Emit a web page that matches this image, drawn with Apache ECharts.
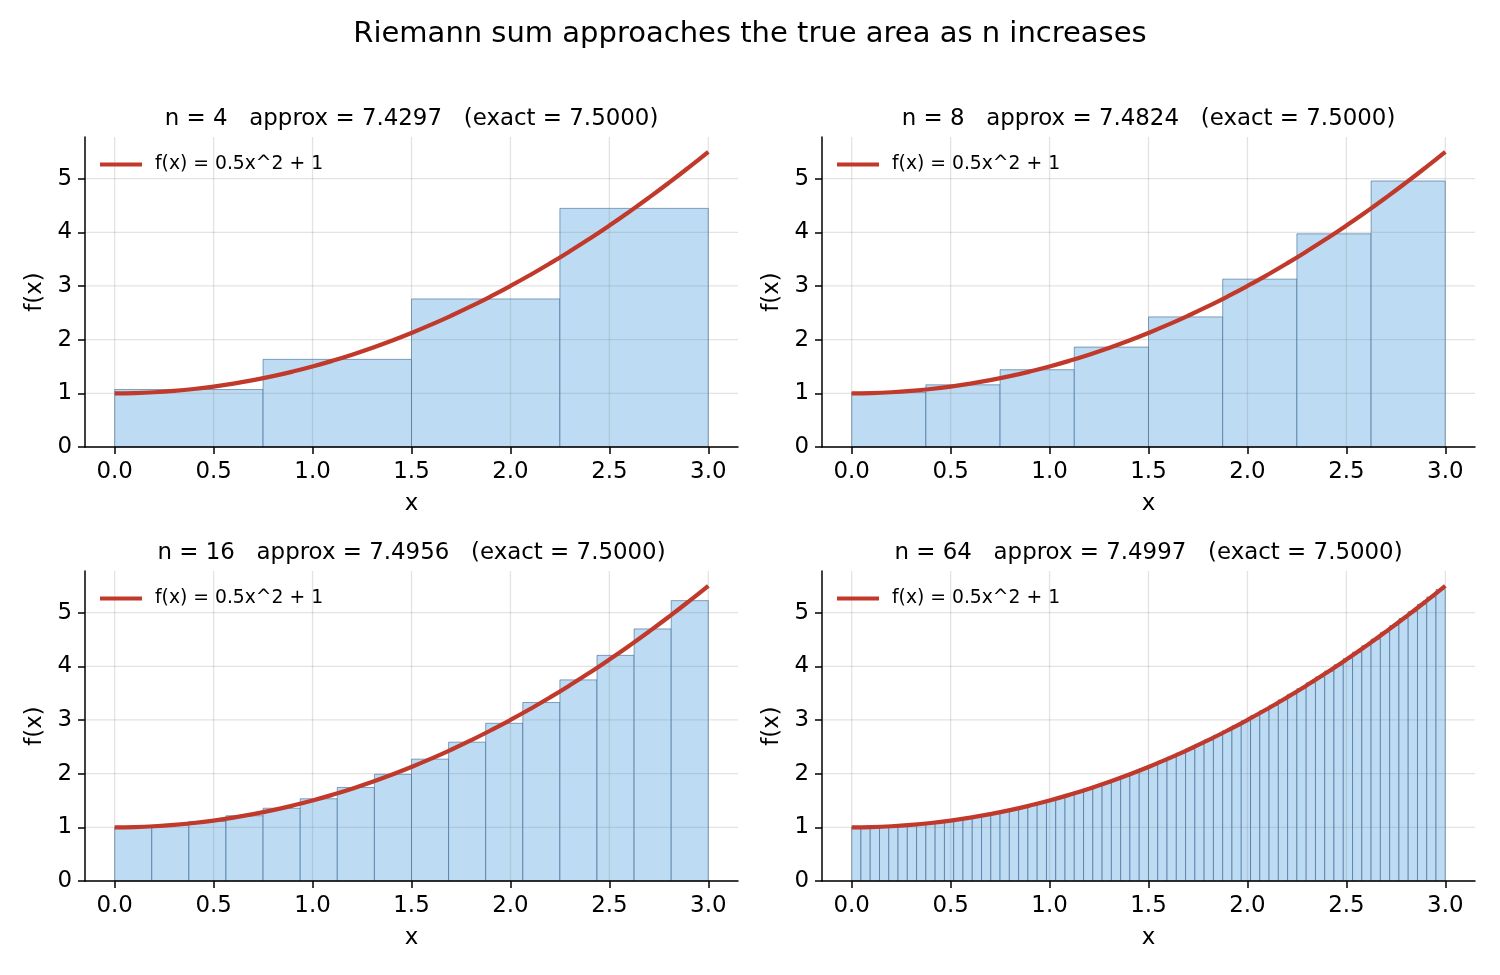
<!DOCTYPE html>
<html>
<head>
<meta charset="utf-8">
<script src="https://cdn.jsdelivr.net/npm/echarts@6/dist/echarts.min.js"></script>
<style>
  html, body { margin: 0; padding: 0; background: #fff; }
  #chart { width: 1500px; height: 975px; }
</style>
</head>
<body>
<div id="chart"></div>
<script>
// ---------- data ----------
const suptitle = 'Riemann sum approaches the true area as n increases';
const curveName = 'f(x) = 0.5x^2 + 1';
const intervalStart = 0;
const intervalEnd = 3;
const exactValue = '7.5000';
const panelN = [4, 8, 16, 64];
const panelApprox = ['7.4297', '7.4824', '7.4956', '7.4997'];

const xTicks = [0, 0.5, 1.0, 1.5, 2.0, 2.5, 3.0];
const yTicks = [0, 1, 2, 3, 4, 5];

const curveX = [0, 0.1, 0.2, 0.3, 0.4, 0.5, 0.6, 0.7, 0.8, 0.9, 1.0, 1.1, 1.2, 1.3, 1.4, 1.5,
  1.6, 1.7, 1.8, 1.9, 2.0, 2.1, 2.2, 2.3, 2.4, 2.5, 2.6, 2.7, 2.8, 2.9, 3.0];
const curveY = [1.000, 1.005, 1.020, 1.045, 1.080, 1.125, 1.180, 1.245, 1.320, 1.405, 1.500,
  1.605, 1.720, 1.845, 1.980, 2.125, 2.280, 2.445, 2.620, 2.805, 3.000, 3.205, 3.420, 3.645,
  3.880, 4.125, 4.380, 4.645, 4.920, 5.205, 5.500];

const heights4 = [1.0703, 1.6328, 2.7578, 4.4453];
const heights8 = [1.0176, 1.1582, 1.4395, 1.8613, 2.4238, 3.1270, 3.9707, 4.9551];
const heights16 = [1.0044, 1.0396, 1.1099, 1.2153, 1.3560, 1.5317, 1.7427, 1.9888,
  2.2700, 2.5864, 2.9380, 3.3247, 3.7466, 4.2036, 4.6958, 5.2231];
const heights64 = [1.0003, 1.0025, 1.0069, 1.0135, 1.0222, 1.0332, 1.0464, 1.0618,
  1.0794, 1.0992, 1.1211, 1.1453, 1.1717, 1.2002, 1.2310, 1.2639,
  1.2991, 1.3365, 1.3760, 1.4178, 1.4617, 1.5078, 1.5562, 1.6067,
  1.6595, 1.7144, 1.7715, 1.8308, 1.8924, 1.9561, 2.0220, 2.0901,
  2.1604, 2.2329, 2.3076, 2.3846, 2.4637, 2.5450, 2.6284, 2.7141,
  2.8020, 2.8921, 2.9844, 3.0789, 3.1756, 3.2744, 3.3755, 3.4788,
  3.5843, 3.6919, 3.8018, 3.9138, 4.0281, 4.1446, 4.2632, 4.3841,
  4.5071, 4.6324, 4.7598, 4.8894, 5.0213, 5.1553, 5.2915, 5.4300];
const panelHeights = [heights4, heights8, heights16, heights64];

// ---------- layout / style ----------
const FONT = '"DejaVu Sans", "Liberation Sans", sans-serif';
const gridsPos = [
  { left: 85, top: 137, width: 653, height: 310 },
  { left: 822, top: 137, width: 653, height: 310 },
  { left: 85, top: 571, width: 653, height: 310 },
  { left: 822, top: 571, width: 653, height: 310 }
];
const X_MIN = -0.15, X_MAX = 3.15, Y_MIN = 0, Y_MAX = 5.775;
const CURVE_COLOR = '#c0392b';
const BAR_FILL = '#bddcf3';
const BAR_EDGE = 'rgba(45,90,135,0.55)';
const GRID_COLOR = 'rgba(128,128,128,0.22)';
const LABEL_SIZE = 22.9;

const grid = [], xAxis = [], yAxis = [], series = [], legend = [], graphic = [];

graphic.push({
  type: 'text', x: 750, y: 34, z: 10,
  style: { text: suptitle, font: '29px ' + FONT, fill: '#000', align: 'center', verticalAlign: 'middle' }
});

panelN.forEach((n, i) => {
  const g = gridsPos[i];
  grid.push({ left: g.left, top: g.top, width: g.width, height: g.height, containLabel: false });

  graphic.push({
    type: 'text', x: g.left + g.width / 2, y: g.top - 18, z: 10,
    style: {
      text: 'n = ' + n + '   approx = ' + panelApprox[i] + '   (exact = ' + exactValue + ')',
      font: '22.9px ' + FONT, fill: '#000', align: 'center', verticalAlign: 'middle'
    }
  });

  xAxis.push({
    gridIndex: i, type: 'value', min: X_MIN, max: X_MAX, z: 10,
    axisLine: { show: true, onZero: false, lineStyle: { color: '#000', width: 1.5 } },
    axisTick: { show: true, customValues: xTicks, length: 7, lineStyle: { color: '#000', width: 1.5 } },
    axisLabel: { customValues: xTicks, formatter: v => Number(v).toFixed(1), fontSize: LABEL_SIZE, fontFamily: FONT, color: '#000', margin: 14 },
    splitLine: { show: false },
    name: 'x', nameLocation: 'middle', nameGap: 46,
    nameTextStyle: { fontSize: LABEL_SIZE, fontFamily: FONT, color: '#000' }
  });
  yAxis.push({
    gridIndex: i, type: 'value', min: Y_MIN, max: Y_MAX, z: 10,
    axisLine: { show: true, onZero: false, lineStyle: { color: '#000', width: 1.5 } },
    axisTick: { show: true, customValues: yTicks, length: 7, lineStyle: { color: '#000', width: 1.5 } },
    axisLabel: { customValues: yTicks, fontSize: LABEL_SIZE, fontFamily: FONT, color: '#000', margin: 13 },
    splitLine: { show: false },
    name: 'f(x)', nameLocation: 'middle', nameGap: 38, nameRotate: 90,
    nameTextStyle: { fontSize: LABEL_SIZE, fontFamily: FONT, color: '#000' }
  });

  // bars (midpoint rectangles)
  const heights = panelHeights[i];
  const w = (intervalEnd - intervalStart) / n;
  const barData = heights.map((h, k) => [intervalStart + k * w, intervalStart + (k + 1) * w, h]);
  series.push({
    type: 'custom', xAxisIndex: i, yAxisIndex: i, z: 2, silent: true,
    data: barData,
    encode: { x: [0, 1], y: 2 },
    renderItem: (params, api) => {
      const p0 = api.coord([api.value(0), api.value(2)]);
      const p1 = api.coord([api.value(1), 0]);
      return {
        type: 'rect',
        shape: { x: p0[0], y: p0[1], width: p1[0] - p0[0], height: p1[1] - p0[1] },
        style: { fill: BAR_FILL, stroke: BAR_EDGE, lineWidth: 1 }
      };
    }
  });

  // grid lines (drawn above the bars, as in the reference)
  const gridData = xTicks.map(v => [v, 0]).concat(yTicks.map(v => [v, 1]));
  series.push({
    type: 'custom', xAxisIndex: i, yAxisIndex: i, z: 3, silent: true,
    data: gridData,
    encode: { x: 0 },
    renderItem: (params, api) => {
      const cs = params.coordSys;
      const v = api.value(0);
      const kind = api.value(1);
      if (kind === 0) {
        const x = api.coord([v, 0])[0];
        return { type: 'line', shape: { x1: x, y1: cs.y, x2: x, y2: cs.y + cs.height },
          style: { stroke: GRID_COLOR, lineWidth: 1.3 } };
      }
      const y = api.coord([0, v])[1];
      return { type: 'line', shape: { x1: cs.x, y1: y, x2: cs.x + cs.width, y2: y },
        style: { stroke: GRID_COLOR, lineWidth: 1.3 } };
    }
  });

  series.push({
    type: 'line', name: curveName, xAxisIndex: i, yAxisIndex: i, z: 5,
    data: curveX.map((x, k) => [x, curveY[k]]),
    showSymbol: false, smooth: true, silent: true,
    lineStyle: { color: CURVE_COLOR, width: 4.2 },
    itemStyle: { color: CURVE_COLOR }
  });

  legend.push({
    data: [curveName], left: g.left + 15, top: g.top + 18, padding: 0,
    icon: 'rect', itemWidth: 42, itemHeight: 4,
    textStyle: { fontSize: 18.75, fontFamily: FONT, color: '#000', padding: [0, 0, 0, 8] },
    selectedMode: false
  });
});

const chart = echarts.init(document.getElementById('chart'), null, { renderer: 'canvas' });
chart.setOption({
  backgroundColor: '#fff',
  animation: false,
  textStyle: { fontFamily: FONT },
  grid, xAxis, yAxis, series, legend, graphic
});
</script>
</body>
</html>
